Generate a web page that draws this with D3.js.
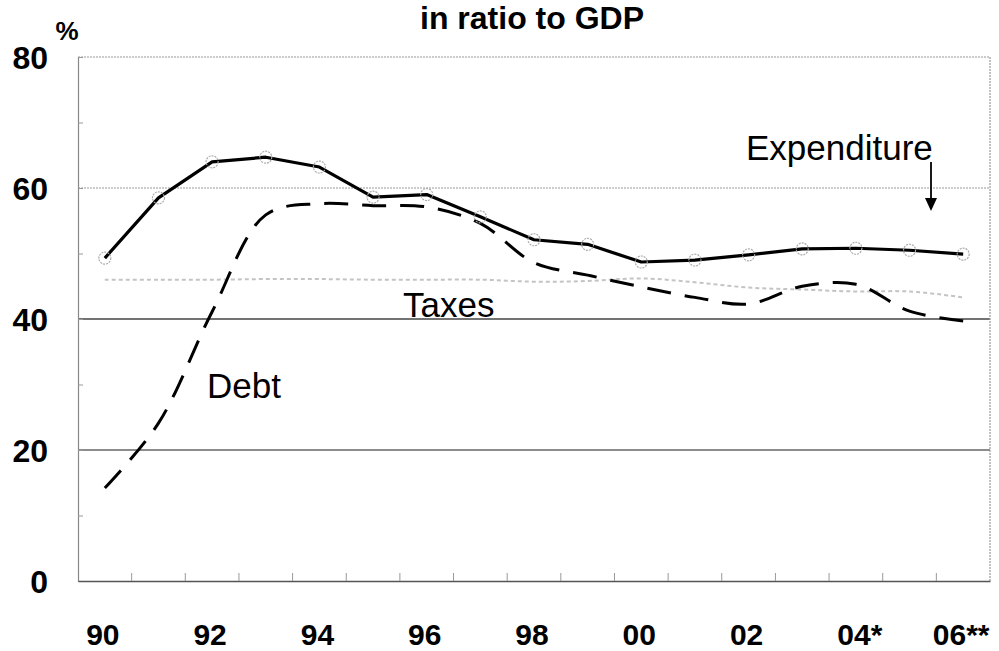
<!DOCTYPE html>
<html>
<head>
<meta charset="utf-8">
<script src="https://cdn.jsdelivr.net/npm/d3@7"></script>
<style>
  html, body { margin: 0; padding: 0; background: #fff; }
  svg { display: block; font-family: "Liberation Sans", Arial, sans-serif; }
</style>
</head>
<body>
<div id="chart"></div>
<script>
// years on the category axis, labels only on every other year
const years = ["90", "91", "92", "93", "94", "95", "96", "97", "98", "99", "00", "01", "02", "03", "04", "05", "06"];
const yearLabels = ["90", "", "92", "", "94", "", "96", "", "98", "", "00", "", "02", "", "04*", "", "06**"];
const yTicks = [0, 20, 40, 60, 80];

// values, % of GDP
const expenditure = [49.3, 58.5, 64.0, 64.7, 63.2, 58.6, 59.0, 55.6, 52.1, 51.4, 48.7, 49.0, 49.8, 50.7, 50.8, 50.5, 49.9];
const debt = [14.2, 24.1, 41.1, 55.9, 57.6, 57.3, 57.1, 54.6, 48.6, 46.7, 44.9, 43.3, 42.3, 45.0, 45.3, 41.2, 39.7];
const taxes = [46.0, 46.0, 46.0, 46.1, 46.1, 46.0, 46.0, 46.0, 45.7, 45.8, 46.2, 45.6, 44.8, 44.5, 44.2, 44.2, 43.3];

const width = 999, height = 651;
const plotLeft = 78, plotRight = 990, plotTop = 57, plotBottom = 581;

const svg = d3.select("#chart").append("svg")
    .attr("width", width)
    .attr("height", height);

const x = d3.scaleBand().domain(years).range([plotLeft, plotRight]).padding(0);
const y = d3.scaleLinear().domain([0, 80]).range([plotBottom, plotTop]);
const cx = d => x(d) + x.bandwidth() / 2;

// title (first line is cut off in the source)
svg.append("text")
    .attr("x", 532).attr("y", 29)
    .attr("text-anchor", "middle")
    .style("font-size", "32px").style("font-weight", "bold")
    .text("in ratio to GDP");

// gridlines, styled the way they came out of the scan
const gridStyle = {
    80: { c: "#999", w: 1.2, dash: "2,1" },
    60: { c: "#999", w: 1.2, dash: "2,1" },
    40: { c: "#444", w: 1.6, dash: null },
    20: { c: "#666", w: 1.4, dash: null }
};
[20, 40, 60, 80].forEach(v => {
    const s = gridStyle[v];
    svg.append("line")
        .attr("x1", plotLeft).attr("x2", plotRight)
        .attr("y1", y(v)).attr("y2", y(v))
        .attr("stroke", s.c).attr("stroke-width", s.w)
        .attr("stroke-dasharray", s.dash);
});

// right border
svg.append("line")
    .attr("x1", plotRight).attr("x2", plotRight).attr("y1", plotTop).attr("y2", plotBottom)
    .attr("stroke", "#999").attr("stroke-width", 1.2).attr("stroke-dasharray", "2,1");

// left axis with inward minor ticks
const yAxis = svg.append("g").attr("transform", `translate(${plotLeft},0)`)
    .call(d3.axisRight(y).tickValues(d3.range(0, 81, 10)).tickSize(5).tickFormat(""));
yAxis.select(".domain").attr("stroke", "#888").attr("stroke-width", 1.2);
yAxis.selectAll(".tick line").attr("stroke", "#999");

svg.append("g").selectAll("text")
    .data(yTicks).enter().append("text")
    .attr("x", 48).attr("y", d => y(d))
    .attr("dy", "0.36em")
    .attr("text-anchor", "end")
    .style("font-size", "32px").style("font-weight", "bold")
    .text(d => d);

svg.append("text")
    .attr("x", 67).attr("y", 40)
    .attr("text-anchor", "middle")
    .style("font-size", "26px").style("font-weight", "bold")
    .text("%");

// bottom axis: ticks between categories, pointing up
const xAxis = svg.append("g").attr("transform", `translate(0,${plotBottom})`)
    .call(d3.axisTop(x).tickSize(0).tickFormat(""));
xAxis.select(".domain").attr("stroke", "#555").attr("stroke-width", 1.6);
xAxis.selectAll(".tick").remove();
svg.append("g").selectAll("line")
    .data(years.slice(1)).enter().append("line")
    .attr("x1", d => x(d)).attr("x2", d => x(d))
    .attr("y1", plotBottom).attr("y2", plotBottom - 8)
    .attr("stroke", "#999");

svg.append("g").selectAll("text")
    .data(years).enter().append("text")
    .attr("x", (d, i) => cx(d) + (yearLabels[i].length === 3 ? 4 : -2))
    .attr("y", 645)
    .attr("text-anchor", "middle")
    .style("font-size", "30px").style("font-weight", "bold")
    .text((d, i) => yearLabels[i]);

// series lines
const line = vals => d3.line()
    .x((d, i) => cx(years[i]))
    .y(d => y(d))
    .curve(d3.curveCatmullRom.alpha(0.5))(vals);

svg.append("path")
    .attr("d", line(taxes))
    .attr("fill", "none")
    .attr("stroke", "#c4c4c4").attr("stroke-width", 2)
    .attr("stroke-dasharray", "4,3");

svg.append("path")
    .attr("d", line(debt))
    .attr("fill", "none")
    .attr("stroke", "#000").attr("stroke-width", 3)
    .attr("stroke-dasharray", "24,14");

svg.append("path")
    .attr("d", d3.line()
        .x((d, i) => cx(years[i]))
        .y(d => y(d))(expenditure))
    .attr("fill", "none")
    .attr("stroke", "#000").attr("stroke-width", 3.2)
    .attr("stroke-linejoin", "round");

svg.append("g").selectAll("circle")
    .data(expenditure).enter().append("circle")
    .attr("cx", (d, i) => cx(years[i]))
    .attr("cy", d => y(d))
    .attr("r", 6)
    .attr("fill", "none")
    .attr("stroke", "#aaa").attr("stroke-width", 1.2)
    .attr("stroke-dasharray", "2,1");

// annotations
const note = (tx, px, py) => svg.append("text")
    .attr("x", px).attr("y", py)
    .style("font-size", "35px")
    .text(tx);
note("Expenditure", 746, 160);
note("Taxes", 403, 317);
note("Debt", 207, 398);

// arrow from the label down to the expenditure line
svg.append("line")
    .attr("x1", 931).attr("x2", 931).attr("y1", 162).attr("y2", 204)
    .attr("stroke", "#000").attr("stroke-width", 1.8);
svg.append("path")
    .attr("d", "M925,198 L931,211 L937,198 Z")
    .attr("fill", "#000");
</script>
</body>
</html>
